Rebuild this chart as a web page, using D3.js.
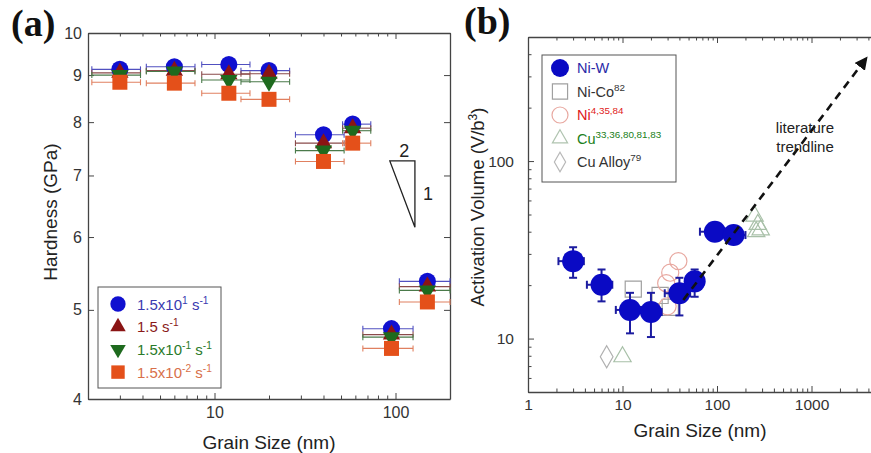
<!doctype html>
<html>
<head>
<meta charset="UTF-8">
<title>Hardness and activation volume</title>
<script src="https://d3js.org/d3.v7.min.js"></script>
<style>
  body { margin: 0; background: #fff; }
  text { font-family: "Liberation Sans", Arial, sans-serif; }
  text.panel { font-family: "Liberation Serif", "Times New Roman", serif; font-weight: bold; }
</style>
</head>
<body>
<script>
// ---- data (a) hardness vs grain size ----
var grainSize = [3, 6, 12, 20, 40, 58, 95, 150];
var grainLow  = [2.1, 4.2, 8.5, 14, 28, 51, 66, 105];
var grainHigh = [3.9, 7.8, 15.7, 26, 52, 73, 125, 200];

var rateLabels = ["1.5x10|1| s|-1", "1.5 s|-1", "1.5x10|-1| s|-1", "1.5x10|-2| s|-1"];
var hardRate1 = [9.13, 9.19, 9.24, 9.10, 7.75, 7.96, 4.77, 5.37];
var hardRate2 = [9.05, 9.10, 9.02, 9.03, 7.59, 7.88, 4.70, 5.30];
var hardRate3 = [9.00, 9.08, 8.89, 8.85, 7.45, 7.83, 4.67, 5.25];
var hardRate4 = [8.84, 8.82, 8.60, 8.47, 7.25, 7.59, 4.54, 5.10];

var hardTicks = [4, 5, 6, 7, 8, 9, 10];
var grainTicksA = [10, 100];

// slope triangle (grain, hardness)
var slopeTri = [[93, 7.26], [128, 7.26], [128, 6.15]];

// ---- data (b) activation volume vs grain size ----
var niwAV   = [27.3, 20.1, 14.5, 14.1, 18.0, 21.0, 40.0, 38.3];
var niwLow  = [22.0, 16.2, 10.7, 10.2, 13.5, 17.2, 37.0, 35.5];
var niwHigh = [32.7, 24.5, 18.1, 18.1, 22.0, 24.5, 43.0, 41.0];

var nicoGrain = [13, 25, 32];
var nicoAV    = [19, 17.5, 15];
var niGrain = [29, 32, 39, 30];
var niAV    = [20.5, 23.5, 27.3, 15.2];
var cuGrain = [10, 250, 270, 260, 290];
var cuAV    = [7.9, 49, 44, 40, 41];
var cuAlloyGrain = [6.8];
var cuAlloyAV    = [7.9];

var trendStart = [44, 16.5];
var trendEnd   = [3775, 378];

var grainTicksB = [1, 10, 100, 1000];
var avTicks = [10, 100];

var legendB = [
  { name: "Ni-W", sup: "", color: "#2a2aa8" },
  { name: "Ni-Co", sup: "82", color: "#333" },
  { name: "Ni", sup: "4,35,84", color: "#e02020" },
  { name: "Cu", sup: "33,36,80,81,83", color: "#208020" },
  { name: "Cu Alloy", sup: "79", color: "#333" }
];

var W = 871, H = 453;
var svg = d3.select("body").append("svg").attr("width", W).attr("height", H);

svg.append("defs").append("marker")
  .attr("id", "arrow").attr("viewBox", "0 0 10 10")
  .attr("refX", 8).attr("refY", 5)
  .attr("markerWidth", 5).attr("markerHeight", 5)
  .attr("orient", "auto")
  .append("path").attr("d", "M0,0L10,5L0,10Z").attr("fill", "#111");

// draws 4 axes around a panel, ticks pointing inward
function frame(g, x, y, w, h, xTicks, xMajor, yTicks, yMajor, opt) {
  var fx = function (d) { return xMajor.indexOf(d) >= 0 ? d : ""; };
  var fy = function (d) { return yMajor.indexOf(d) >= 0 ? d : ""; };
  var bottom = g.append("g").attr("transform", "translate(0," + h + ")")
    .call(d3.axisBottom(x).tickValues(xTicks).tickSizeInner(-6).tickSizeOuter(0)
      .tickPadding(opt.xPad).tickFormat(fx));
  bottom.selectAll(".tick line").attr("y2", function (d) { return xMajor.indexOf(d) >= 0 ? -6 : -3.5; });
  var top = g.append("g")
    .call(d3.axisTop(x).tickValues(xTicks).tickSizeInner(-6).tickSizeOuter(0).tickFormat(""));
  top.selectAll(".tick line").attr("y2", function (d) { return xMajor.indexOf(d) >= 0 ? 6 : 3.5; });
  var left = g.append("g")
    .call(d3.axisLeft(y).tickValues(yTicks).tickSizeInner(-6).tickSizeOuter(0)
      .tickPadding(opt.yPad).tickFormat(fy));
  left.selectAll(".tick line").attr("x2", function (d) { return yMajor.indexOf(d) >= 0 ? 6 : 3.5; });
  var right = g.append("g").attr("transform", "translate(" + w + ",0)")
    .call(d3.axisRight(y).tickValues(yTicks).tickSizeInner(-6).tickSizeOuter(0).tickFormat(""));
  right.selectAll(".tick line").attr("x2", function (d) { return yMajor.indexOf(d) >= 0 ? -6 : -3.5; });
  g.selectAll(".domain").attr("stroke", "#444").attr("stroke-width", 1.3);
  g.selectAll(".tick line").attr("stroke", "#444").attr("stroke-width", 1);
  g.selectAll(".tick text").attr("font-size", opt.fontSize).attr("fill", "#333");
}

// text with superscripts; parts separated by "|" alternate normal / sup
function richText(sel, str, size) {
  var parts = str.split("|");
  parts.forEach(function (p, i) {
    if (p === "") return;
    if (i % 2 === 1) {
      sel.append("tspan").attr("dy", -size * 0.4).attr("font-size", size * 0.68).text(p);
    } else {
      var t = sel.append("tspan").attr("font-size", size).text(p);
      if (i > 0) t.attr("dy", size * 0.4);
    }
  });
}

// ================= panel (a) =================
var aW = 362, aH = 366;
var ga = svg.append("g").attr("transform", "translate(88,33)");
var xa = d3.scaleLog().domain([2, 200]).range([0, aW]);
var ya = d3.scaleLog().domain([4, 10]).range([aH, 0]);

frame(ga, xa, ya, aW, aH, xa.ticks(), grainTicksA, hardTicks, hardTicks,
  { xPad: 8, yPad: 6, fontSize: 16 });

var seriesA = [
  { vals: hardRate1, sym: d3.symbolCircle, size: 230, fill: "#1010d0", bar: "#5050c0", rot: 0, text: "#3a3ab0" },
  { vals: hardRate2, sym: d3.symbolTriangle, size: 130, fill: "#8a1414", bar: "#8a4a4a", rot: 0, text: "#8a1a1a" },
  { vals: hardRate3, sym: d3.symbolTriangle, size: 130, fill: "#1e6a1e", bar: "#4a7a4a", rot: 180, text: "#2a7a2a" },
  { vals: hardRate4, sym: d3.symbolSquare, size: 225, fill: "#e4501a", bar: "#e08060", rot: 0, text: "#d8704a" }
];

seriesA.forEach(function (s) {
  var eb = ga.append("g").attr("stroke", s.bar).attr("stroke-width", 1.1).attr("fill", "none");
  grainSize.forEach(function (gs, i) {
    var yy = ya(s.vals[i]);
    var x0 = xa(grainLow[i]), x1 = xa(Math.min(grainHigh[i], 200));
    eb.append("line").attr("x1", x0).attr("x2", x1).attr("y1", yy).attr("y2", yy);
    eb.append("line").attr("x1", x0).attr("x2", x0).attr("y1", yy - 3).attr("y2", yy + 3);
    eb.append("line").attr("x1", x1).attr("x2", x1).attr("y1", yy - 3).attr("y2", yy + 3);
  });
});

seriesA.forEach(function (s) {
  ga.append("g").selectAll("path").data(grainSize).enter().append("path")
    .attr("d", d3.symbol().type(s.sym).size(s.size))
    .attr("transform", function (d, i) {
      return "translate(" + xa(d) + "," + ya(s.vals[i]) + ") rotate(" + s.rot + ")";
    })
    .attr("fill", s.fill);
});

// slope triangle
ga.append("path")
  .attr("d", d3.line().x(function (d) { return xa(d[0]); }).y(function (d) { return ya(d[1]); })(slopeTri) + "Z")
  .attr("fill", "none").attr("stroke", "#222").attr("stroke-width", 1.3);
ga.append("text").attr("x", (xa(slopeTri[0][0]) + xa(slopeTri[1][0])) / 2 + 2).attr("y", ya(slopeTri[0][1]) - 4)
  .attr("text-anchor", "middle").attr("font-size", 18).attr("fill", "#222").text("2");
ga.append("text").attr("x", xa(slopeTri[1][0]) + 8).attr("y", (ya(slopeTri[1][1]) + ya(slopeTri[2][1])) / 2 + 6)
  .attr("font-size", 18).attr("fill", "#222").text("1");

// legend (a)
var la = svg.append("g").attr("transform", "translate(98,287)");
la.append("rect").attr("width", 123).attr("height", 101).attr("fill", "#fff")
  .attr("stroke", "#555").attr("stroke-width", 1);
seriesA.forEach(function (s, i) {
  var yy = 17 + i * 22.7;
  la.append("path").attr("d", d3.symbol().type(s.sym).size(s.size * 0.8))
    .attr("transform", "translate(20," + yy + ") rotate(" + s.rot + ")").attr("fill", s.fill);
  var t = la.append("text").attr("x", 39).attr("y", yy + 5.5).attr("fill", s.text);
  richText(t, rateLabels[i], 15);
});

svg.append("text").attr("transform", "translate(50,212) rotate(-90)")
  .attr("text-anchor", "middle").attr("dy", "0.35em").attr("font-size", 19).attr("fill", "#222")
  .text("Hardness (GPa)");
svg.append("text").attr("x", 269).attr("y", 442).attr("dy", "0.35em")
  .attr("text-anchor", "middle").attr("font-size", 19).attr("fill", "#222").text("Grain Size (nm)");
svg.append("text").attr("class", "panel").attr("x", 11).attr("y", 36)
  .attr("font-size", 38).attr("fill", "#111").text("(a)");

// ================= panel (b) =================
var bW = 378, bH = 355;
var gb = svg.append("g").attr("transform", "translate(528,37)");
var xb = d3.scaleLog().domain([1, 10000]).range([0, bW]);
var yb = d3.scaleLog().domain([5, 500]).range([bH, 0]);

frame(gb, xb, yb, bW, bH, xb.ticks(), grainTicksB, yb.ticks(), avTicks,
  { xPad: 7, yPad: 14, fontSize: 15.5 });

// open literature symbols
function openSym(xs, ys, sym, size, color, rot) {
  gb.append("g").selectAll("path").data(xs).enter().append("path")
    .attr("d", d3.symbol().type(sym).size(size))
    .attr("transform", function (d, i) { return "translate(" + xb(d) + "," + yb(ys[i]) + ") rotate(" + (rot || 0) + ")"; })
    .attr("fill", "none").attr("stroke", color).attr("stroke-width", 1.2);
}
openSym(nicoGrain, nicoAV, d3.symbolSquare, 260, "#a0a0a0");
openSym(niGrain, niAV, d3.symbolCircle, 230, "#e8a8a0");
openSym(cuGrain, cuAV, d3.symbolTriangle, 130, "#a8c0a8");
openSym(cuAlloyGrain, cuAlloyAV, d3.symbolDiamond, 140, "#b0b0b0");

// Ni-W error bars and points
var ebB = gb.append("g").attr("stroke", "#1c1ca0").attr("stroke-width", 2).attr("fill", "none");
grainSize.forEach(function (gs, i) {
  var cx = xb(gs), cy = yb(niwAV[i]);
  var yl = yb(niwLow[i]), yh = yb(niwHigh[i]);
  var xl = xb(grainLow[i]), xh = xb(grainHigh[i]);
  ebB.append("line").attr("x1", cx).attr("x2", cx).attr("y1", yl).attr("y2", yh);
  ebB.append("line").attr("x1", cx - 4).attr("x2", cx + 4).attr("y1", yl).attr("y2", yl);
  ebB.append("line").attr("x1", cx - 4).attr("x2", cx + 4).attr("y1", yh).attr("y2", yh);
  ebB.append("line").attr("x1", xl).attr("x2", xh).attr("y1", cy).attr("y2", cy);
  ebB.append("line").attr("x1", xl).attr("x2", xl).attr("y1", cy - 4).attr("y2", cy + 4);
  ebB.append("line").attr("x1", xh).attr("x2", xh).attr("y1", cy - 4).attr("y2", cy + 4);
});
gb.append("g").selectAll("circle").data(grainSize).enter().append("circle")
  .attr("cx", function (d) { return xb(d); })
  .attr("cy", function (d, i) { return yb(niwAV[i]); })
  .attr("r", 11).attr("fill", "#0a0ac4");

// literature trendline
gb.append("line")
  .attr("x1", xb(trendStart[0])).attr("y1", yb(trendStart[1]))
  .attr("x2", xb(trendEnd[0])).attr("y2", yb(trendEnd[1]))
  .attr("stroke", "#111").attr("stroke-width", 2.6).attr("stroke-dasharray", "8,6")
  .attr("marker-end", "url(#arrow)");
var tl = svg.append("text").attr("text-anchor", "middle").attr("font-size", 15).attr("fill", "#222");
tl.append("tspan").attr("x", 805).attr("y", 133).text("literature");
tl.append("tspan").attr("x", 805).attr("y", 152).text("trendline");

// legend (b)
var lb = svg.append("g").attr("transform", "translate(542,55)");
lb.append("rect").attr("width", 134).attr("height", 127).attr("fill", "#fff")
  .attr("stroke", "#555").attr("stroke-width", 1);
var legSyms = [
  function (g) { g.append("circle").attr("r", 9).attr("fill", "#0a0ac4"); },
  function (g) { g.append("path").attr("d", d3.symbol().type(d3.symbolSquare).size(230)).attr("fill", "none").attr("stroke", "#a0a0a0").attr("stroke-width", 1.2); },
  function (g) { g.append("circle").attr("r", 8).attr("fill", "none").attr("stroke", "#e8a8a0").attr("stroke-width", 1.2); },
  function (g) { g.append("path").attr("d", d3.symbol().type(d3.symbolTriangle).size(100)).attr("fill", "none").attr("stroke", "#b0c4b0").attr("stroke-width", 1.2); },
  function (g) { g.append("path").attr("d", d3.symbol().type(d3.symbolDiamond).size(110)).attr("fill", "none").attr("stroke", "#b8b8b8").attr("stroke-width", 1.2); }
];
legendB.forEach(function (e, i) {
  var yy = 13 + i * 23.5;
  legSyms[i](lb.append("g").attr("transform", "translate(18," + yy + ")"));
  var t = lb.append("text").attr("x", 35).attr("y", yy + 5).attr("fill", e.color);
  richText(t, e.sup ? e.name + "|" + e.sup : e.name, 14.5);
});

svg.append("text").attr("transform", "translate(478,207) rotate(-90)")
  .attr("text-anchor", "middle").attr("dy", "0.35em").attr("font-size", 18.5).attr("fill", "#222")
  .call(function (t) {
    t.append("tspan").text("Activation Volume (V/b");
    t.append("tspan").attr("dy", -7).attr("font-size", 12).text("3");
    t.append("tspan").attr("dy", 7).text(")");
  });
svg.append("text").attr("x", 700).attr("y", 430).attr("dy", "0.35em")
  .attr("text-anchor", "middle").attr("font-size", 19).attr("fill", "#222").text("Grain Size (nm)");
svg.append("text").attr("class", "panel").attr("x", 464).attr("y", 34)
  .attr("font-size", 38).attr("fill", "#111").text("(b)");
</script>
</body>
</html>
